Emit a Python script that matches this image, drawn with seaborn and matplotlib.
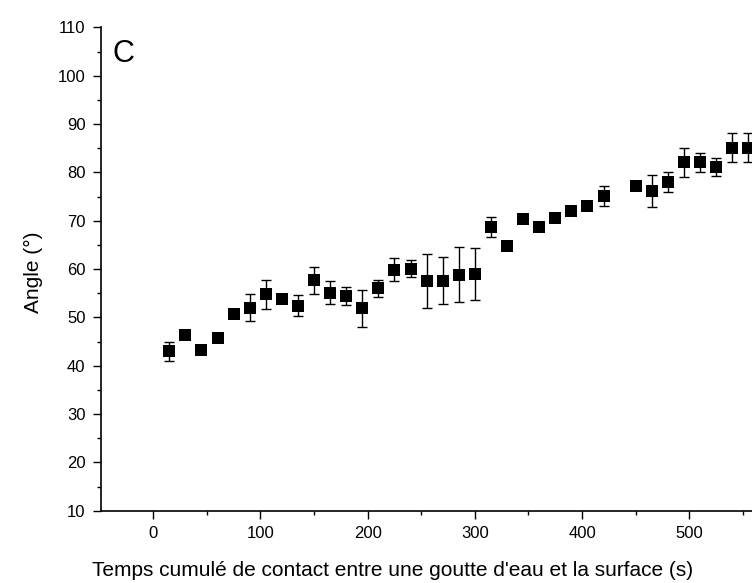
import numpy as np
import pandas as pd
import matplotlib
matplotlib.use("Agg")
import matplotlib.pyplot as plt
from matplotlib.ticker import MultipleLocator
import seaborn as sns

# Cumulated contact time (s), contact angle (deg) and its error
temps = [15, 30, 45, 60, 75, 90, 105, 120, 135, 150, 165, 180, 195, 210, 225, 240,
         255, 270, 285, 300, 315, 330, 345, 360, 375, 390, 405, 420, 450, 465, 480,
         495, 510, 525, 540, 555]
angle = [43.0, 46.3, 43.3, 45.7, 50.6, 52.0, 54.8, 53.8, 52.4, 57.7, 55.1, 54.4,
         51.9, 56.0, 59.9, 60.1, 57.6, 57.6, 58.8, 59.0, 68.7, 64.7, 70.3, 68.7,
         70.5, 72.1, 73.1, 75.1, 77.1, 76.1, 78.0, 82.1, 82.1, 81.1, 85.1, 85.1]
erreur = [2.0, 0.3, 0.3, 0.8, 0.5, 2.8, 3.0, 0.4, 2.2, 2.8, 2.4, 1.9,
          3.8, 1.7, 2.4, 1.8, 5.6, 4.9, 5.7, 5.3, 2.1, 0.8, 0.3, 0.3,
          0.3, 0.8, 0.8, 2.1, 0.7, 3.3, 2.0, 3.0, 2.0, 1.9, 3.0, 3.0]

df = pd.DataFrame({"temps": temps, "angle": angle, "erreur": erreur})

sns.set_style("ticks")
plt.rcParams['font.family'] = ['Liberation Sans', 'DejaVu Sans']
plt.rcParams['text.color'] = 'black'

fig = plt.figure(figsize=(7.52, 5.83), dpi=100)
ax = fig.add_axes([0.1339, 0.124, 0.8661, 0.829])

# error bars first, then the square markers on top
ax.errorbar(df["temps"], df["angle"], yerr=df["erreur"], fmt="none",
            ecolor="black", elinewidth=1.0, capsize=3.6, capthick=1.0, zorder=2)
sns.scatterplot(data=df, x="temps", y="angle", marker="s", s=66, color="black",
                edgecolor="black", linewidth=0, ax=ax, zorder=3)

ax.set_xlim(-49, 558.5)
ax.set_ylim(10, 110)
ax.xaxis.set_major_locator(MultipleLocator(100))
ax.xaxis.set_minor_locator(MultipleLocator(50))
ax.yaxis.set_major_locator(MultipleLocator(10))
ax.yaxis.set_minor_locator(MultipleLocator(5))
ax.tick_params(which="major", direction="out", length=6, width=1.0,
               labelsize=12, pad=5, color="black", labelcolor="black")
ax.tick_params(which="minor", direction="out", length=3, width=1.0, color="black")

for side in ["top", "right"]:
    ax.spines[side].set_visible(False)
for side in ["left", "bottom"]:
    ax.spines[side].set_linewidth(1.2)
    ax.spines[side].set_color("black")

ax.set_xlabel("")
ax.set_ylabel("")
fig.text(392.5 / 752, 1 - 570 / 583,
         "Temps cumulé de contact entre une goutte d'eau et la surface (s)",
         ha="center", va="center", fontsize=15, color="black")
fig.text(33 / 752, 1 - 272 / 583, "Angle (°)", rotation=90,
         ha="center", va="center", fontsize=15, color="black")
fig.text(113 / 752, 1 - 54 / 583, "C", ha="left", va="center", fontsize=22,
         color="black")

fig.savefig("out.png", dpi=100)
